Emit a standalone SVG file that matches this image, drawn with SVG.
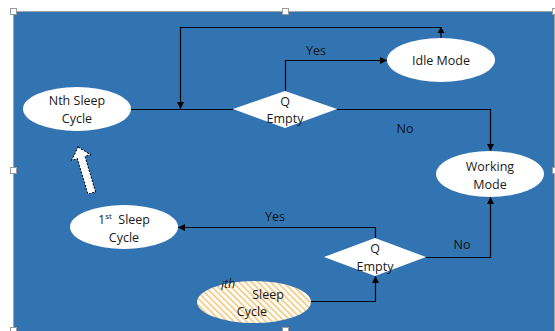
<svg xmlns="http://www.w3.org/2000/svg" width="555" height="331" viewBox="0 0 555 331">
<style>
.node{fill:#ffffff;stroke:none}
.t{font-family:"Open Sans","Liberation Sans",Arial,sans-serif;font-size:12.5px;fill:#1a1a1a;text-anchor:middle}
.lbl{font-family:"Open Sans","Liberation Sans",Arial,sans-serif;font-size:12.5px;fill:#111111;text-anchor:middle}
.edge{fill:none;stroke:#000000;stroke-width:1.2}
.handle{fill:#ffffff;stroke:#9a9a9a;stroke-width:1}
</style>
<defs>
<marker id="ah" viewBox="0 0 10 10" refX="10" refY="5" markerWidth="7" markerHeight="7" markerUnits="userSpaceOnUse" orient="auto">
<path d="M0,0 L10,5 L0,10 Z" fill="#000"/>
</marker>
<pattern id="hatch" width="4.5" height="4.5" patternUnits="userSpaceOnUse" patternTransform="rotate(-45)">
<rect width="4.5" height="4.5" fill="#ffffff"/>
<rect width="1.9" height="4.5" fill="#f5cf8e"/>
</pattern>
</defs>
<rect x="0" y="0" width="555" height="331" fill="#ffffff"/>
<rect x="13.5" y="11.5" width="541" height="320" fill="#3274b2" stroke="#9fa6ad" stroke-width="1"/>

<g id="connectors">
<polyline class="edge" points="131,109.5 233,109.5"/>
<polyline class="edge" points="441,38 441,27.5 180.5,27.5 180.5,109" marker-end="url(#ah)"/>
<path d="M441,27 L444.5,33 L437.5,33 Z" fill="#000"/>
<polyline class="edge" points="285.5,91 285.5,60.5 387,60.5" marker-end="url(#ah)"/>
<polyline class="edge" points="337,109.5 490.5,109.5 490.5,151" marker-end="url(#ah)"/>
<polyline class="edge" points="375.5,238 375.5,227.5 178,227.5" marker-end="url(#ah)"/>
<polyline class="edge" points="426,257.5 490.5,257.5 490.5,197" marker-end="url(#ah)"/>
<polyline class="edge" points="311,301.5 375.5,301.5 375.5,276" marker-end="url(#ah)"/>
<path d="M0,0 L10,11 L4,11 L4,48 L-4,48 L-4,11 L-10,11 Z" transform="translate(78,147) rotate(-16.6)" fill="#ffffff" stroke="#000" stroke-width="1" stroke-dasharray="2,1.5"/>
<text class="lbl" x="316" y="55">Yes</text>
<text class="lbl" x="405" y="133">No</text>
<text class="lbl" x="275" y="221">Yes</text>
<text class="lbl" x="462" y="249">No</text>
</g>

<g id="nth-sleep">
<ellipse class="node" cx="77" cy="109" rx="54" ry="22"/>
<text class="t" x="77" y="105">Nth Sleep</text>
<text class="t" x="77" y="123">Cycle</text>
</g>
<g id="idle-mode">
<ellipse class="node" cx="441" cy="60" rx="54" ry="22"/>
<text class="t" x="441" y="65">Idle Mode</text>
</g>
<g id="q-empty-1">
<polygon class="node" points="233,109 285,91 337,109 285,128"/>
<text class="t" x="285" y="106">Q</text>
<text class="t" x="285" y="123">Empty</text>
</g>
<g id="working-mode">
<ellipse class="node" cx="490" cy="174" rx="54" ry="23"/>
<text class="t" x="490" y="171">Working</text>
<text class="t" x="490" y="189">Mode</text>
</g>
<g id="first-sleep">
<ellipse class="node" cx="124" cy="227" rx="54" ry="22"/>
<text class="t" x="124" y="224">1<tspan font-size="8" dy="-5">st</tspan><tspan dy="5">&#160; Sleep</tspan></text>
<text class="t" x="124" y="242">Cycle</text>
</g>
<g id="q-empty-2">
<polygon class="node" points="324,257 375,238 426,257 375,276"/>
<text class="t" x="375" y="253">Q</text>
<text class="t" x="375" y="271">Empty</text>
</g>
<g id="ith-sleep">
<ellipse cx="254" cy="302" rx="57" ry="21" fill="url(#hatch)"/>
<text class="t" x="228" y="290" font-size="10" font-style="italic">i<tspan dy="-2">th</tspan></text>
<text class="t" x="268" y="299">Sleep</text>
<text class="t" x="252" y="316">Cycle</text>
</g>

<g id="handles">
<rect class="handle" x="10.5" y="8.5" width="6" height="6"/>
<rect class="handle" x="282.5" y="8.5" width="6" height="6"/>
<rect class="handle" x="552.5" y="8.5" width="6" height="6"/>
<rect class="handle" x="10.5" y="167.5" width="6" height="6"/>
<rect class="handle" x="552.5" y="167.5" width="6" height="6"/>
<rect class="handle" x="10.5" y="327.5" width="6" height="6"/>
<rect class="handle" x="282.5" y="327.5" width="6" height="6"/>
</g>
</svg>
